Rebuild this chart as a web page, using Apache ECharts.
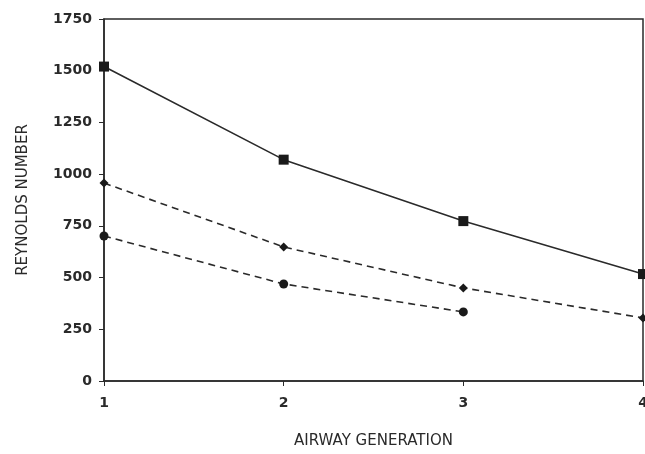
<!DOCTYPE html>
<html>
<head>
<meta charset="utf-8">
<script src="https://cdn.jsdelivr.net/npm/echarts@6/dist/echarts.min.js"></script>
<style>
  html, body { margin: 0; padding: 0; background: #fff; }
  #chart { width: 645px; height: 454px; }
</style>
</head>
<body>
<div id="chart"></div>
<script>
// airway generation vs Reynolds number
const generations = [1, 2, 3, 4];
const squareSeries = [1520, 1070, 773, 517];
const diamondSeries = [957, 648, 450, 305];
const circleSeries = [701, 469, 334];
const yTicks = [0, 250, 500, 750, 1000, 1250, 1500, 1750];

const ink = '#2a2a2a';
const font = 'DejaVu Sans, Verdana, sans-serif';

const toPairs = (vals) => vals.map((v, i) => [generations[i], v]);

const chart = echarts.init(document.getElementById('chart'));

chart.setOption({
  animation: false,
  backgroundColor: '#fff',
  grid: {
    left: 104,
    right: 2,
    top: 19,
    bottom: 73,
    outerBoundsMode: 'none',
    containLabel: false,
    show: true,
    borderColor: ink,
    borderWidth: 1.5
  },
  xAxis: {
    type: 'value',
    min: 1,
    max: 4,
    interval: 1,
    name: 'AIRWAY GENERATION',
    nameLocation: 'middle',
    nameGap: 53,
    nameTextStyle: { color: ink, fontSize: 15, fontFamily: font },
    axisLine: { show: true, lineStyle: { color: ink, width: 1.5 } },
    axisTick: { show: true, inside: false, length: 5, lineStyle: { color: ink } },
    axisLabel: { color: ink, fontSize: 14, fontWeight: 'bold', fontFamily: font, margin: 15 },
    splitLine: { show: false }
  },
  yAxis: {
    type: 'value',
    min: yTicks[0],
    max: yTicks[yTicks.length - 1],
    interval: 250,
    name: 'REYNOLDS NUMBER',
    nameLocation: 'middle',
    nameRotate: 90,
    nameGap: 73,
    nameTextStyle: { color: ink, fontSize: 15, fontFamily: font },
    axisLine: { show: true, lineStyle: { color: ink, width: 1.5 } },
    axisTick: { show: true, inside: false, length: 5, lineStyle: { color: ink } },
    axisLabel: {
      color: ink, fontSize: 14, fontWeight: 'bold', fontFamily: font, margin: 12,
      formatter: (v) => String(v)
    },
    splitLine: { show: false }
  },
  series: [
    {
      type: 'line',
      data: toPairs(squareSeries),
      symbol: 'rect',
      symbolSize: 10,
      lineStyle: { color: ink, width: 1.6, type: 'solid' },
      itemStyle: { color: '#1a1a1a' }
    },
    {
      type: 'line',
      data: toPairs(diamondSeries),
      symbol: 'diamond',
      symbolSize: 9,
      lineStyle: { color: ink, width: 1.6, type: [7, 5] },
      itemStyle: { color: '#1a1a1a' }
    },
    {
      type: 'line',
      data: toPairs(circleSeries),
      symbol: 'circle',
      symbolSize: 9,
      lineStyle: { color: ink, width: 1.6, type: [7, 5] },
      itemStyle: { color: '#1a1a1a' }
    }
  ]
});
</script>
</body>
</html>
